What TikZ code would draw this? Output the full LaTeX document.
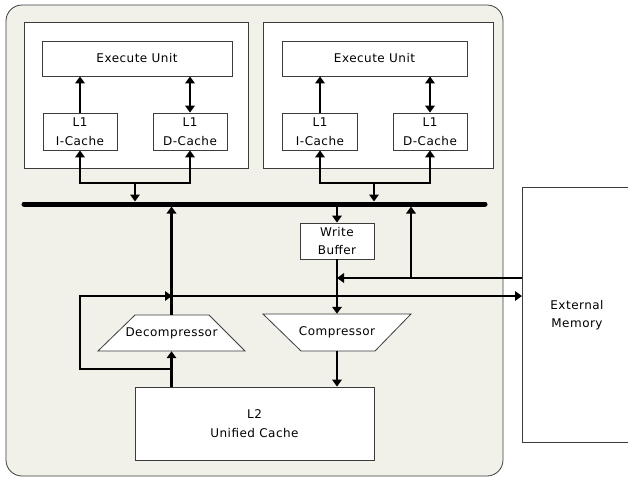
\documentclass[tikz,border=0pt]{standalone}
\usepackage{fontspec}
\setmainfont{DejaVu Sans}[LetterSpace=4]
\usetikzlibrary{arrows.meta}
\definecolor{bgc}{RGB}{241,241,234}
\definecolor{edgec}{RGB}{60,60,60}
\begin{document}
\begin{tikzpicture}[x=1pt,y=-1pt,
  box/.style={draw=edgec, line width=0.8pt, fill=white, inner sep=0pt, align=center,
    font=\fontsize{12}{18.5}\selectfont},
  lbl/.style={inner sep=0pt, align=center, font=\fontsize{12}{18.5}\selectfont},
  trap/.style={draw=edgec, line width=0.8pt, fill=white},
  conn/.style={line width=2.6pt},
  tip/.style={-{Triangle[width=9.5pt,length=7pt]}},
  tips/.style={{Triangle[width=9.5pt,length=7pt]}-{Triangle[width=9.5pt,length=7pt]}},
  bus/.style={line width=5pt, line cap=round}]
\useasboundingbox (0,0) rectangle (628,477);
% chip
\node[draw=edgec, line width=0.8pt, fill=bgc, rounded corners=16pt, inner sep=0pt,
  minimum width=497pt, minimum height=471pt] (chip) at (254.5,240.5) {};
% cores
\node[box, minimum width=224pt, minimum height=146pt] (core1) at (136,95) {};
\node[box, minimum width=190pt, minimum height=35pt] (eu1) at (137,58.5) {Execute Unit};
\node[box, minimum width=74pt, minimum height=37pt] (ic1) at (80,131.5) {L1\\I-Cache};
\node[box, minimum width=74pt, minimum height=37pt] (dc1) at (190,131.5) {L1\\D-Cache};
\node[box, minimum width=230pt, minimum height=146pt] (core2) at (378,95) {};
\node[box, minimum width=185pt, minimum height=35pt] (eu2) at (374.5,58.5) {Execute Unit};
\node[box, minimum width=75pt, minimum height=37pt] (ic2) at (320,131.5) {L1\\I-Cache};
\node[box, minimum width=74pt, minimum height=37pt] (dc2) at (430,131.5) {L1\\D-Cache};
% bus
\coordinate (busL) at (24,204);
\coordinate (busR) at (485,204);
\draw[bus] (busL) -- (busR);
% write buffer, compressors, L2
\node[box, minimum width=74pt, minimum height=36pt] (wb) at (337,241) {Write\\Buffer};
\draw[trap] (98,351) -- (135,315) -- (209,315) -- (245,351) -- cycle;
\node[lbl, minimum height=36pt] (decomp) at (171.5,333) {Decompressor};
\draw[trap] (263,314) -- (411,314) -- (375,351) -- (301,351) -- cycle;
\node[lbl, minimum height=37pt] (comp) at (337,332.5) {Compressor};
\node[box, minimum width=239pt, minimum height=73pt] (l2) at (254.5,423.5) {L2\\Unified Cache};
% external memory
\node[box, minimum width=130pt, minimum height=255pt, anchor=west] (ext) at (522,314.5) {};
\node[lbl] (extlbl) at (577,315) {External\\Memory};
% core 1 connectors
\draw[conn,tip] (ic1.north) -- (ic1.north |- eu1.south);
\draw[conn,tips] (dc1.north) -- (dc1.north |- eu1.south);
\coordinate (j1) at (135,183);
\draw[conn,tips] (ic1.south) |- (j1) -| (dc1.south);
\draw[conn,tip,shorten >=2.5pt] (j1) -- (j1 |- busL);
% core 2 connectors
\draw[conn,tip] (ic2.north) -- (ic2.north |- eu2.south);
\draw[conn,tips] (dc2.north) -- (dc2.north |- eu2.south);
\coordinate (j2) at (374,183);
\draw[conn,tips] (ic2.south) |- (j2) -| (dc2.south);
\draw[conn,tip,shorten >=2.5pt] (j2) -- (j2 |- busL);
% lower connectors
\draw[conn,tip,shorten >=2.5pt] (decomp.north) -- (decomp.north |- busL);
\draw[conn,tip] (wb.north |- busL) -- (wb.north);
\draw[conn,tip] (wb.south) -- (comp.north);
\draw[conn,tip] (comp.south) -- (comp.south |- l2.north);
\draw[conn,tip] (l2.north -| decomp.south) -- (decomp.south);
\coordinate (b1) at (172,369);
\coordinate (b2) at (80,369);
\coordinate (b3) at (80,296);
\coordinate (m1) at (172,296);
\draw[conn,tip] (b1) -- (b2) -- (b3) -- (m1);
\draw[conn,tip] (m1) -- (m1 -| ext.west);
\coordinate (r1) at (411,278);
\draw[conn,tip] (ext.west |- r1) -- (wb.south |- r1);
\draw[conn,tip,shorten >=2.5pt] (r1) -- (r1 |- busL);
\end{tikzpicture}
\end{document}
